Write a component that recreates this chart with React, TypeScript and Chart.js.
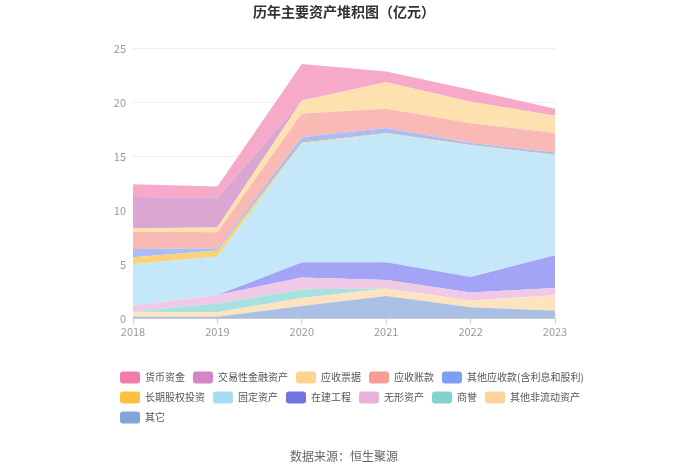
import { useEffect, useRef } from 'react';
import { Chart, registerables } from 'chart.js';

Chart.register(...registerables);

const FONT = '"Noto Sans CJK SC", "Noto Sans", sans-serif';

const years = ['2018', '2019', '2020', '2021', '2022', '2023'];
const yTicks = [0, 5, 10, 15, 20, 25];

// 亿元
const cash = [1.17, 1.05, 3.4, 1.0, 1.1, 0.64];               // 货币资金
const tradingAssets = [2.9, 2.74, 0, 0, 0, 0];                 // 交易性金融资产
const notesReceivable = [0.32, 0.46, 1.2, 2.46, 2.0, 1.61];    // 应收票据
const accountsReceivable = [1.6, 1.46, 2.2, 1.79, 1.84, 1.79]; // 应收账款
const otherReceivables = [0.77, 0.21, 0.5, 0.46, 0.18, 0.21];  // 其他应收款(含利息和股利)
const longTermEquity = [0.65, 0.56, 0.1, 0.05, 0.05, 0.05];    // 长期股权投资
const fixedAssets = [3.83, 3.57, 11.0, 11.92, 12.17, 9.26];    // 固定资产
const construction = [0, 0, 1.4, 1.64, 1.45, 3.04];            // 在建工程
const intangible = [0.52, 0.8, 1.08, 0.78, 0.73, 0.67];        // 无形资产
const goodwill = [0.05, 0.81, 0.81, 0, 0, 0];                  // 商誉
const otherNonCurrent = [0.47, 0.42, 0.74, 0.7, 0.62, 1.45];   // 其他非流动资产
const others = [0.16, 0.16, 1.17, 2.1, 1.06, 0.72];            // 其它

// bottom of the stack first
const seriesNames = ['其它', '其他非流动资产', '商誉', '无形资产', '在建工程', '固定资产', '长期股权投资', '其他应收款(含利息和股利)', '应收账款', '应收票据', '交易性金融资产', '货币资金'];
const seriesData = [others, otherNonCurrent, goodwill, intangible, construction, fixedAssets, longTermEquity, otherReceivables, accountsReceivable, notesReceivable, tradingAssets, cash];
const fillColors = ['#a9bfe3', '#fde3bf', '#a7e2df', '#efc9e6', '#a4a4f6', '#c4e7f9', '#fdd276', '#a9bdf6', '#f9b9b4', '#fde1af', '#dca6d3', '#f6a9c8'];
const legendColors = ['#84a3d6', '#fdd39b', '#81d3cf', '#e7b1d8', '#7272e0', '#a8dcf5', '#fbc040', '#7d9ff0', '#f69d95', '#fcd38f', '#d386c3', '#f27ca9'];

export default function App() {
  const ref = useRef<HTMLCanvasElement>(null);

  useEffect(() => {
    if (!ref.current) return;
    Chart.defaults.font.family = FONT;
    const chart = new Chart(ref.current, {
      type: 'line',
      data: {
        labels: years,
        datasets: seriesNames.map((name, i) => ({
          label: name,
          data: seriesData[i],
          backgroundColor: fillColors[i],
          borderColor: fillColors[i],
          borderWidth: 0,
          pointRadius: 0,
          fill: i === 0 ? 'origin' : '-1',
          tension: 0,
        })),
      },
      options: {
        animation: false,
        responsive: true,
        maintainAspectRatio: false,
        layout: { padding: { left: 112, right: 71, top: 0, bottom: 9 } },
        plugins: {
          tooltip: { enabled: false },
          title: {
            display: true,
            fullSize: false,
            text: '历年主要资产堆积图（亿元）',
            color: '#333',
            font: { size: 14, weight: 'bold', family: FONT },
            padding: { top: 3, bottom: 29 },
          },
          subtitle: {
            display: true,
            fullSize: false,
            position: 'bottom',
            text: '数据来源：恒生聚源',
            color: '#666',
            font: { size: 12, family: FONT },
            padding: { top: 16, bottom: 0 },
          },
          legend: {
            position: 'bottom',
            align: 'start',
            reverse: true,
            labels: {
              boxWidth: 20,
              boxHeight: 12,
              padding: 8,
              color: '#555',
              font: { size: 10, family: FONT },
              useBorderRadius: true,
              borderRadius: 3,
              generateLabels: (c: any) => {
                const items = Chart.defaults.plugins.legend.labels.generateLabels(c);
                return items.map((it: any) => ({
                  ...it,
                  fillStyle: legendColors[it.datasetIndex],
                  strokeStyle: legendColors[it.datasetIndex],
                  lineWidth: 0,
                }));
              },
            },
          },
        },
        scales: {
          x: {
            type: 'category',
            offset: false,
            grid: { drawOnChartArea: false, drawTicks: true, tickLength: 5, color: '#ccc' },
            border: { display: true, color: '#ccc' },
            ticks: { color: '#999', font: { size: 11, family: FONT }, padding: 2, maxRotation: 0 },
            afterFit: (s: any) => { s.height = 45; },
          },
          y: {
            stacked: true,
            min: 0,
            max: 25,
            afterBuildTicks: (s: any) => { s.ticks = yTicks.map((v) => ({ value: v })); },
            grid: { color: '#eeeeee', drawTicks: false },
            border: { display: false },
            ticks: { color: '#999', font: { size: 11, family: FONT }, padding: 7 },
            afterFit: (s: any) => { s.width = 21; },
          },
          yR: {
            type: 'linear',
            position: 'right',
            display: true,
            grid: { display: false, drawTicks: false },
            border: { display: false },
            ticks: { display: false },
            afterFit: (s: any) => { s.width = 74; },
          },
        },
      },
    });
    return () => chart.destroy();
  }, []);

  return (
    <div style={{ position: 'absolute', left: 0, top: 0, width: 700, height: 473 }}>
      <canvas ref={ref} />
    </div>
  );
}
